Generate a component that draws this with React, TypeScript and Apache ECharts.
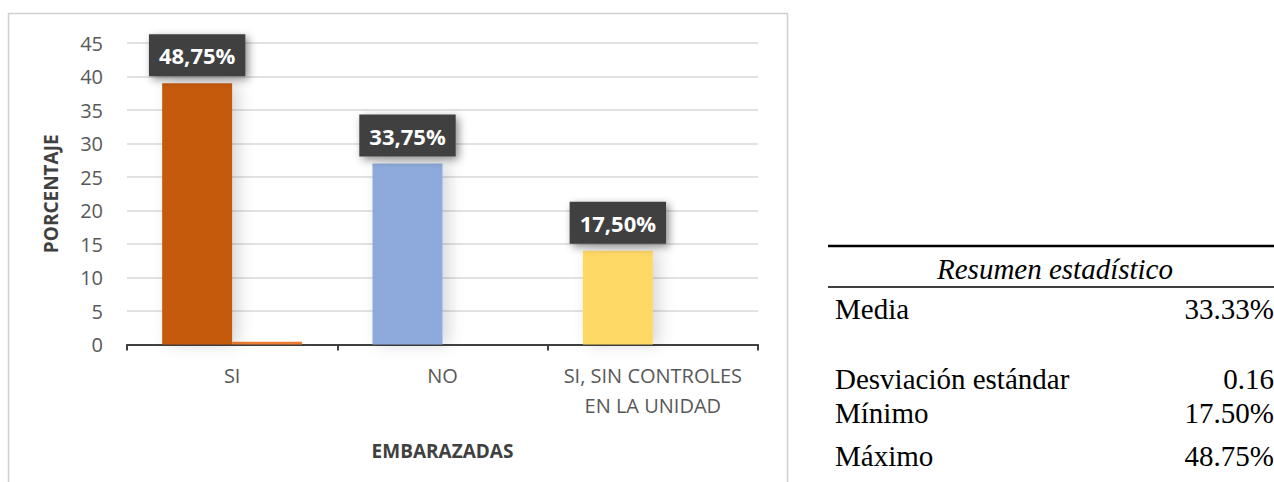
import React, { useEffect, useRef } from "react";
import * as echarts from "echarts";

const categories = ["SI", "NO", "SI, SIN CONTROLES\nEN LA UNIDAD"];
const counts = [39, 27, 14];
const percentLabels = ["48,75%", "33,75%", "17,50%"];
const secondSeries: (number | string)[] = [0.4, "-", "-"];
const barColors = ["#C55A11", "#8EA9DB", "#FFD966"];
const yTicks = { min: 0, max: 45, interval: 5 };
const statRows = [
  { name: "Media", value: "33.33%" },
  { name: "Desviación estándar", value: "0.16" },
  { name: "Mínimo", value: "17.50%" },
  { name: "Máximo", value: "48.75%" },
];
const statRowY = [309, 379, 413, 456];

export default function App() {
  const ref = useRef<HTMLDivElement>(null);
  useEffect(() => {
    if (!ref.current) return;
    const chart = echarts.init(ref.current, null, { renderer: "svg" });
    const font = "'Open Sans', 'Noto Sans', sans-serif";
    const serif = "'Liberation Serif', 'DejaVu Serif', serif";
    const graphics: any[] = [
      {
        type: "rect",
        shape: { x: 8.5, y: 13.5, width: 779, height: 500 },
        style: { fill: "none", stroke: "#d0d0d0", lineWidth: 1.5 },
        silent: true,
        z: -1,
      },
      {
        type: "line",
        shape: { x1: 828, y1: 246, x2: 1274, y2: 246 },
        style: { stroke: "#000", lineWidth: 2.5 },
      },
      {
        type: "line",
        shape: { x1: 828, y1: 287, x2: 1274, y2: 287 },
        style: { stroke: "#000", lineWidth: 1.5 },
      },
      {
        type: "text",
        x: 1055,
        y: 269,
        style: {
          text: "Resumen estadístico",
          font: `italic 29px ${serif}`,
          fill: "#000",
          align: "center",
          verticalAlign: "middle",
        },
      },
    ];
    statRows.forEach((r, i) => {
      graphics.push({
        type: "text",
        x: 835,
        y: statRowY[i],
        style: { text: r.name, font: `29px ${serif}`, fill: "#000", align: "left", verticalAlign: "middle" },
      });
      graphics.push({
        type: "text",
        x: 1274,
        y: statRowY[i],
        style: { text: r.value, font: `29px ${serif}`, fill: "#000", align: "right", verticalAlign: "middle" },
      });
    });

    chart.setOption({
      animation: false,
      grid: { left: 127, right: 516, top: 43, bottom: 137.5 },
      xAxis: {
        type: "category",
        data: categories,
        axisLine: { lineStyle: { color: "#404040", width: 2 } },
        axisTick: { show: true, length: 6, lineStyle: { color: "#404040", width: 2 } },
        axisLabel: { interval: 0, color: "#595959", fontSize: 20, fontFamily: font, margin: 16, lineHeight: 30 },
        name: "EMBARAZADAS",
        nameLocation: "middle",
        nameGap: 97,
        nameTextStyle: { color: "#404040", fontSize: 19, fontWeight: "bold", fontFamily: font },
      },
      yAxis: {
        type: "value",
        min: yTicks.min,
        max: yTicks.max,
        interval: yTicks.interval,
        axisLine: { show: false },
        axisTick: { show: false },
        axisLabel: { color: "#595959", fontSize: 20, fontFamily: font, margin: 24 },
        splitLine: { lineStyle: { color: "#d9d9d9", width: 1.5 } },
        name: "PORCENTAJE",
        nameLocation: "middle",
        nameGap: 67,
        nameTextStyle: { color: "#404040", fontSize: 19, fontWeight: "bold", fontFamily: font },
      },
      series: [
        {
          type: "bar",
          barWidth: 70,
          barGap: "0%",
          data: counts.map((v, i) => ({
            value: v,
            itemStyle: {
              color: barColors[i],
              shadowColor: "rgba(0,0,0,0.16)",
              shadowBlur: 16,
              shadowOffsetX: 6,
            },
          })),
          label: {
            show: true,
            position: "top",
            distance: 7,
            formatter: (p: any) => percentLabels[p.dataIndex],
            color: "#fff",
            fontSize: 22,
            fontWeight: "bold",
            fontFamily: font,
            backgroundColor: "#404040",
            padding: [8, 10, 8, 10],
            lineHeight: 26,
            shadowColor: "rgba(0,0,0,0.45)",
            shadowBlur: 8,
            shadowOffsetX: 3,
            shadowOffsetY: 3,
          },
          z: 3,
        },
        {
          type: "bar",
          barWidth: 70,
          data: secondSeries,
          itemStyle: { color: "#ED7D31" },
          z: 2,
        },
      ],
      graphic: graphics,
    });
    return () => chart.dispose();
  }, []);
  return (
    <div style={{ position: "absolute", left: 0, top: 0, width: 1274, height: 482, background: "#fff" }}>
      <div ref={ref} style={{ width: 1274, height: 482 }} />
    </div>
  );
}
